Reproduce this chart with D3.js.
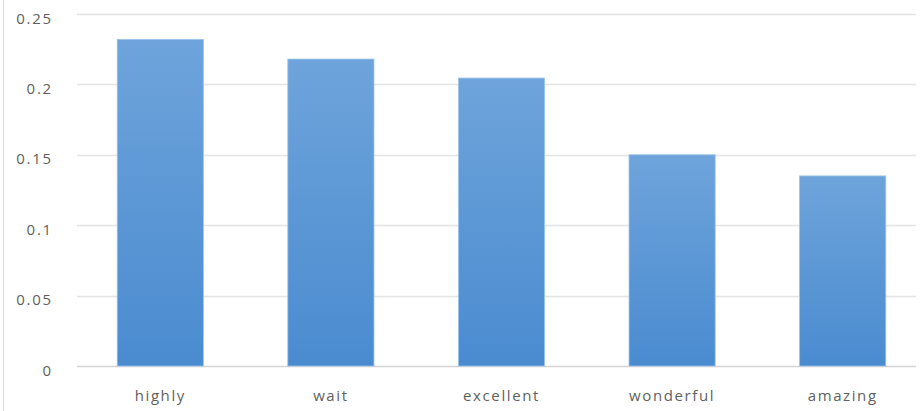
<!DOCTYPE html>
<html>
<head>
<meta charset="utf-8">
<script src="https://cdn.jsdelivr.net/npm/d3@7"></script>
<style>
  body { margin: 0; background: #fff; }
  svg { display: block; }
</style>
</head>
<body>
<script>
// chart data
const words = ["highly", "wait", "excellent", "wonderful", "amazing"];
const scores = [0.232, 0.218, 0.2045, 0.150, 0.135];
const yTicks = [0, 0.05, 0.1, 0.15, 0.2, 0.25];

const width = 921, height = 411;
const margin = { top: 14, bottom: 45, left: 75, right: -7 };

const svg = d3.select("body").append("svg")
    .attr("width", width)
    .attr("height", height);

// bar gradient, lighter at top
const grad = svg.append("defs").append("linearGradient")
    .attr("id", "barGrad")
    .attr("x1", 0).attr("y1", 0).attr("x2", 0).attr("y2", 1);
grad.append("stop").attr("offset", "0%").attr("stop-color", "#6ea4db");
grad.append("stop").attr("offset", "100%").attr("stop-color", "#4a8bd0");

// frame line on the left
svg.append("line")
    .attr("x1", 3.5).attr("x2", 3.5)
    .attr("y1", 0).attr("y2", height)
    .attr("stroke", "#d9d9d9");

const x = d3.scaleBand()
    .domain(words)
    .range([margin.left, width - margin.right])
    .paddingInner(0.495)
    .paddingOuter(0.2475);

const y = d3.scaleLinear()
    .domain([0, 0.25])
    .range([height - margin.bottom, margin.top]);

const labelFont = "'Open Sans', 'DejaVu Sans', sans-serif";

// gridlines
svg.append("g")
    .selectAll("line")
    .data(yTicks)
    .enter()
    .append("line")
    .attr("x1", 77)
    .attr("x2", 916)
    .attr("y1", d => Math.round(y(d)) + 0.5)
    .attr("y2", d => Math.round(y(d)) + 0.5)
    .attr("stroke", d => d === 0 ? "#d4d4d4" : "#e4e4e4")
    .attr("stroke-width", 1.3);

// y axis labels
const yAxis = svg.append("g")
    .attr("transform", `translate(${margin.left - 22},0)`)
    .call(d3.axisLeft(y).tickValues(yTicks).tickSize(0).tickPadding(0)
        .tickFormat(d => d3.format("")(+d.toFixed(2))));
yAxis.select(".domain").remove();
yAxis.selectAll("text")
    .attr("fill", "#5f5f5f")
    .attr("dy", "0.6em")
    .style("font-family", labelFont)
    .style("font-size", "15px")
    .style("letter-spacing", "1.8px");

// bars
svg.selectAll("rect.bar")
    .data(words)
    .enter()
    .append("rect")
    .attr("class", "bar")
    .attr("x", d => x(d))
    .attr("y", (d, i) => y(scores[i]))
    .attr("width", x.bandwidth())
    .attr("height", (d, i) => y(0) - y(scores[i]))
    .attr("fill", "url(#barGrad)")
    .attr("stroke", "#9cc3ea")
    .attr("stroke-width", 0.8);

// x axis labels
const xAxis = svg.append("g")
    .attr("transform", `translate(0,${y(0)})`)
    .call(d3.axisBottom(x).tickSize(0).tickPadding(24));
xAxis.select(".domain").remove();
xAxis.selectAll("text")
    .attr("fill", "#5f5f5f")
    .style("font-family", labelFont)
    .style("font-size", "15px")
    .style("letter-spacing", "1.6px");
</script>
</body>
</html>
